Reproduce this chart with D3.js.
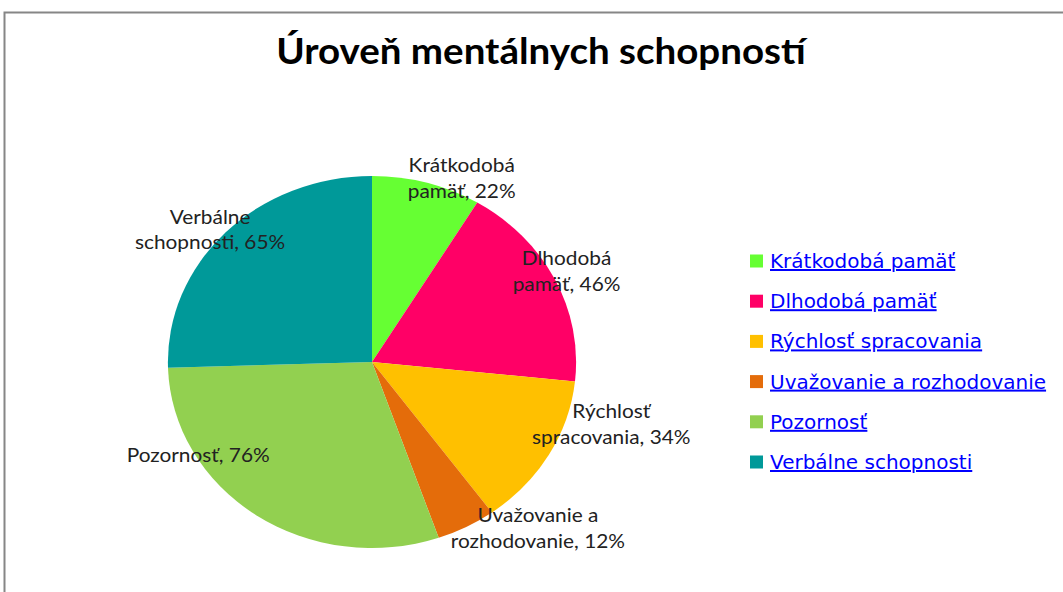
<!DOCTYPE html>
<html>
<head>
<meta charset="utf-8">
<script src="https://cdn.jsdelivr.net/npm/d3@7"></script>
<style>
  html, body { margin: 0; padding: 0; background: #fff; }
  svg { display: block; }
</style>
</head>
<body>
<div id="chart"></div>
<script>
const categories = [
  "Krátkodobá pamäť",
  "Dlhodobá pamäť",
  "Rýchlosť spracovania",
  "Uvažovanie a rozhodovanie",
  "Pozornosť",
  "Verbálne schopnosti"
];
const values = [22, 46, 34, 12, 76, 65];
const colors = ["#66ff33", "#ff0066", "#ffc000", "#e46c0a", "#92d050", "#009999"];
const title = "Úroveň mentálnych schopností";

// label placement relative to the slice middle (deg) and radius factor
const labelLayout = [
  { shift: 8.5, r: 1.08 },
  { shift: -0.5, r: 1.07 },
  { shift: -14, r: 1.22 },
  { shift: -14.7, r: 1.21 },
  { shift: 24.8, r: 0.99 },
  { shift: -2.3, r: 1.065 }
];

const width = 1063;
const height = 592;
const cx = 372, cy = 362;
const rx = 204, ry = 186;
// the original picture is a bit stretched sideways
const stretch = rx / ry;

const svg = d3.select("#chart")
  .append("svg")
  .attr("width", width)
  .attr("height", height);

// chart area border
svg.append("rect")
  .attr("x", 4.5)
  .attr("y", 12.5)
  .attr("width", 1100)
  .attr("height", 620)
  .attr("fill", "#fff")
  .attr("stroke", "#868686")
  .attr("stroke-width", 2);

svg.append("text")
  .attr("transform", "translate(541,64) scale(1.07,1)")
  .attr("text-anchor", "middle")
  .style("font-family", "Lato, 'Open Sans', sans-serif")
  .style("font-weight", "700")
  .style("font-size", "36px")
  .attr("fill", "#000")
  .text(title);

const data = categories.map((c, i) => ({ name: c, value: values[i], color: colors[i] }));

const pie = d3.pie()
  .value((d) => d.value)
  .sort(null);

const arcs = pie(data);

// unit arc, stretched to an ellipse like the original
const arc = d3.arc().innerRadius(0).outerRadius(1);

svg.append("g")
  .attr("transform", "translate(" + cx + "," + cy + ") scale(" + rx + "," + ry + ")")
  .selectAll("path")
  .data(arcs)
  .join("path")
  .attr("fill", (d) => d.data.color)
  .attr("d", arc);

// data labels
function labelLines(d) {
  const words = d.name.split(" ");
  const tail = ", " + d.value + "%";
  if (words.length === 1) return [d.name + tail];
  const last = words.pop();
  return [words.join(" "), last + tail];
}

const labels = svg.append("g")
  .style("font-family", "Lato, 'Open Sans', sans-serif")
  .style("font-size", "19px")
  .attr("fill", "#222")
  .attr("text-anchor", "middle");

arcs.forEach((a, i) => {
  const lay = labelLayout[i];
  const ang = (a.startAngle + a.endAngle) / 2 + lay.shift * Math.PI / 180;
  const x = cx + rx * lay.r * Math.sin(ang);
  const y = cy - ry * lay.r * Math.cos(ang);
  const lines = labelLines(a.data);
  const lh = 25.5;
  const t = labels.append("text")
    .attr("transform", "translate(" + x + "," + (y - (lines.length - 1) * lh / 2 + 6.5) + ") scale(" + stretch + ",1)");
  lines.forEach((l, j) => {
    t.append("tspan")
      .attr("x", 0)
      .attr("dy", j === 0 ? 0 : lh)
      .text(l);
  });
});

// legend
const legendY = d3.scalePoint()
  .domain(categories)
  .range([261, 462]);

const legend = svg.append("g")
  .style("font-family", "'DejaVu Sans', Verdana, sans-serif")
  .style("font-size", "20px");

const item = legend.selectAll("g")
  .data(data)
  .join("g")
  .attr("transform", (d) => "translate(750," + legendY(d.name) + ")");

item.append("rect")
  .attr("x", 0)
  .attr("y", -6.5)
  .attr("width", 13)
  .attr("height", 13)
  .attr("fill", (d) => d.color);

item.append("text")
  .attr("x", 20)
  .attr("y", 7)
  .attr("fill", "#0000ff")
  .style("text-decoration", "underline")
  .text((d) => d.name);
</script>
</body>
</html>
